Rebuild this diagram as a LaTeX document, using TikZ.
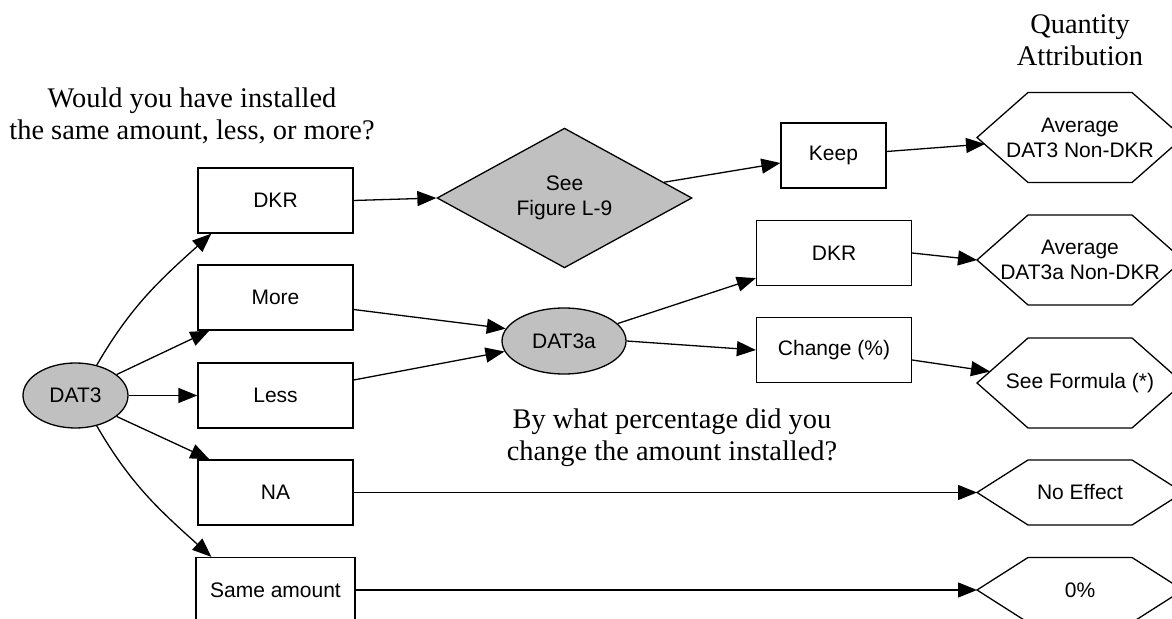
\documentclass[tikz,border=0pt]{standalone}
\usepackage{fontspec}
\setmainfont{Liberation Serif}
\setsansfont{Liberation Sans}
\usetikzlibrary{shapes.geometric,arrows.meta}
\definecolor{shade}{HTML}{C0C0C0}

\begin{document}
\begin{tikzpicture}[x=0.5pt, y=0.5pt,
  sans/.style={font=\sffamily\fontsize{10.5}{12.5}\selectfont},
  box/.style={sans, draw, line width=0.65pt, minimum width=77.5pt, minimum height=32.5pt, inner sep=0pt},
  oval/.style={sans, ellipse, draw, fill=shade, line width=0.65pt, inner sep=0pt},
  hexa/.style={sans, align=center, inner sep=0pt, outer sep=0pt, minimum width=103pt, minimum height=45pt},
  ask/.style={align=center, font=\fontsize{14.2}{15.8}\selectfont},
  arr/.style={-{Triangle[length=9.5pt,width=7.5pt]}, line width=0.65pt}]
  \useasboundingbox (0,0) rectangle (1172,-619);
  \clip (0,0) rectangle (1172,-619);
  \node[ask] (qinst) at (192,-116) {Would you have installed\\the same amount, less, or more?};
  \node[ask] (qattr) at (1080,-40) {Quantity\\Attribution};
  \node[ask] (qpct) at (672,-438) {By what percentage did you\\change the amount installed?};
  \node[oval, minimum width=52.5pt, minimum height=32.5pt] (dat3) at (75.5,-395.5) {DAT3};
  \node[box] (dkr) at (275.5,-200.5) {DKR};
  \node[box] (more) at (275.5,-297.5) {More};
  \node[box] (less) at (275.5,-395.5) {Less};
  \node[box] (na) at (275.5,-492.5) {NA};
  \node[box, minimum width=79.5pt] (same) at (275.5,-590) {Same amount};
  \node[sans, diamond, draw, fill=shade, line width=0.65pt, inner sep=0pt, minimum width=127.5pt, minimum height=65pt, align=center] (fig) at (564.5,-198) {See\\Figure L-9};
  \node[oval, minimum width=62pt, minimum height=33pt] (dat3a) at (564,-341) {DAT3a};
  \node[box, minimum width=52.5pt] (keep) at (833.5,-155.5) {Keep};
  \node[box] (dkrb) at (834,-253) {DKR};
  \node[box] (chg) at (834,-350) {Change (\%)};
  \node[hexa] (avg3) at (1080,-137.5) {Average\\DAT3 Non-DKR};
  \node[hexa] (avg3a) at (1080,-260) {Average\\DAT3a Non-DKR};
  \node[hexa] (form) at (1080,-383) {See Formula (*)};
  \node[hexa, minimum height=32.5pt] (noeff) at (1080,-492.5) {No Effect};
  \node[hexa, minimum height=32.5pt] (zero) at (1080,-590) {0\%};
  \foreach \n in {avg3,avg3a,form,noeff,zero}
    \draw[line width=0.65pt] (\n.west) -- ([xshift=25.5pt]\n.north west) -- ([xshift=-25.5pt]\n.north east) -- (\n.east) -- ([xshift=-25.5pt]\n.south east) -- ([xshift=25.5pt]\n.south west) -- cycle;
  \draw[arr] (dat3.55) to[out=60, in=222] ([xshift=7pt]dkr.south west);
  \draw[arr] (dat3.27) -- ([xshift=6pt]more.south west);
  \draw[arr] (dat3.east) -- (less.west);
  \draw[arr] (dat3.-27) -- ([xshift=6pt]na.north west);
  \draw[arr] (dat3.-55) to[out=-60, in=138] ([xshift=8pt]same.north west);
  \draw[arr] (dkr.east) -- (fig.west);
  \draw[arr] (fig.9) -- ([yshift=-3.75pt]keep.west);
  \draw[arr] ([yshift=2pt]keep.east) -- ([shift={(4pt,-3.25pt)}]avg3.west);
  \draw[arr] ([yshift=-6pt]more.east) -- (dat3a.168);
  \draw[arr] ([yshift=7.75pt]less.east) -- (dat3a.190);
  \draw[arr] (dat3a.18) -- ([yshift=4pt]dkrb.south west);
  \draw[arr] (dat3a.east) -- (chg.west);
  \draw[arr] (dkrb.east) -- (avg3a.west);
  \draw[arr] ([yshift=-5pt]chg.east) -- ([shift={(6.5pt,5.75pt)}]form.west);
  \draw[arr] (na.east) -- (noeff.west);
  \draw[arr] (same.east) -- (zero.west);
\end{tikzpicture}
\end{document}
